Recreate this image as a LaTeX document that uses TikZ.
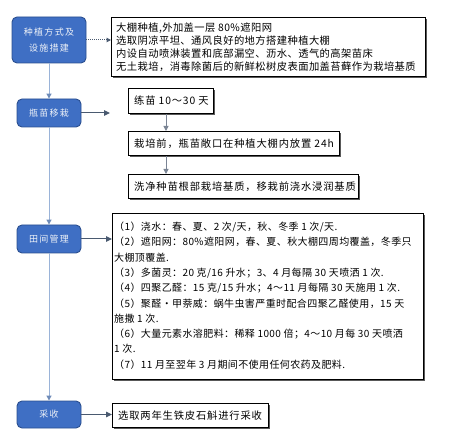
\documentclass[tikz,border=0pt]{standalone}
\usepackage{fontspec}
\newfontfamily\cjk[LetterSpace=4]{Noto Sans CJK SC}
\newfontfamily\cjkstep[LetterSpace=8]{Noto Sans CJK SC}
\newfontfamily\cjkwide[LetterSpace=14]{Noto Sans CJK SC}
\usetikzlibrary{arrows.meta}
\definecolor{stagefill}{HTML}{3F6FC4}
\definecolor{stageedge}{HTML}{2B4F8F}
\definecolor{stagetext}{HTML}{EEF2F8}
\definecolor{spine}{HTML}{9AB3D8}
\definecolor{spinetip}{HTML}{6E8BB8}
\definecolor{linkdark}{HTML}{4A5A70}
\definecolor{linkgray}{HTML}{7A8494}
\begin{document}
\begin{tikzpicture}[x=1pt,y=-1pt,
  stagebox/.style={draw=stageedge, line width=0.9pt, fill=stagefill, rounded corners=5pt,
    text=stagetext, font=\cjkwide\fontsize{9}{16}\selectfont, align=center, inner sep=0pt},
  infobox/.style={draw=black, line width=1.1pt, fill=white, inner sep=0pt, anchor=north west},
  shadowbox/.style={fill=black!65, draw=none, inner sep=0pt, anchor=north west},
  infotext/.style={anchor=west, inner sep=0pt, align=left, font=\cjk\fontsize{10.3}{12.8}\selectfont},
  steptext/.style={anchor=west, inner sep=0pt, align=left, font=\cjkstep\fontsize{10.3}{12.8}\selectfont},
  spinearrow/.style={draw=spine, line width=1pt, -{Triangle[length=5pt,width=5pt,color=spinetip]}},
  harrow/.style={draw=linkdark, line width=1pt, -{Triangle[length=6pt,width=5.5pt]}},
  varrow/.style={draw=linkgray, line width=1pt, -{Triangle[length=5pt,width=5pt]}}
]
\useasboundingbox (0,0) rectangle (455,443);

% left stage boxes
\node[stagebox, minimum width=74pt, minimum height=46pt] (s1) at (49,40) {种植方式及\\设施措建};
\node[stagebox, minimum width=64pt, minimum height=28pt] (s2) at (49,113) {瓶苗移栽};
\node[stagebox, minimum width=64pt, minimum height=28pt] (s3) at (49,239) {田间管理};
\node[stagebox, minimum width=64pt, minimum height=27pt] (s4) at (49,414.5) {采收};

% shadows of info boxes
\node[shadowbox, minimum width=314pt, minimum height=59pt] (shA) at (112.5,18.5) {};
\node[shadowbox, minimum width=85pt, minimum height=25pt] (shB) at (129.5,89.5) {};
\node[shadowbox, minimum width=211pt, minimum height=24pt] (shC) at (129.5,132.5) {};
\node[shadowbox, minimum width=230pt, minimum height=24pt] (shD) at (129.5,175.5) {};
\node[shadowbox, minimum width=311pt, minimum height=166pt] (shE) at (113.5,214.5) {};
\node[shadowbox, minimum width=156pt, minimum height=24pt] (shF) at (113.5,404.5) {};

% info boxes
\node[infobox, minimum width=314pt, minimum height=59pt] (A) at (111,17) {};
\node[infobox, minimum width=85pt, minimum height=25pt] (B) at (128,88) {};
\node[infobox, minimum width=211pt, minimum height=24pt] (C) at (128,131) {};
\node[infobox, minimum width=230pt, minimum height=24pt] (D) at (128,174) {};
\node[infobox, minimum width=311pt, minimum height=166pt] (E) at (112,213) {};
\node[infobox, minimum width=156pt, minimum height=24pt] (F) at (112,403) {};

% texts
\node[infotext] (tA) at ([xshift=5pt]A.west) {大棚种植,外加盖一层 80\%遮阳网\\
选取阴凉平坦、通风良好的地方搭建种植大棚\\
内设自动喷淋装置和底部漏空、沥水、透气的高架苗床\\
无土栽培，消毒除菌后的新鲜松树皮表面加盖苔藓作为栽培基质};
\node[steptext] (tB) at ([xshift=6pt]B.west) {练苗 10～30 天};
\node[steptext] (tC) at ([xshift=6pt]C.west) {栽培前，瓶苗敞口在种植大棚内放置 24h};
\node[steptext] (tD) at ([xshift=6pt]D.west) {洗净种苗根部栽培基质，移栽前浇水浸润基质};
\node[infotext, font=\cjk\fontsize{10}{15.3}\selectfont] (tE) at ([xshift=2pt,yshift=1pt]E.west) {（1）浇水：春、夏、2 次/天，秋、冬季 1 次/天.\\
（2）遮阳网：80\%遮阳网，春、夏、秋大棚四周均覆盖，冬季只\\
大棚顶覆盖.\\
（3）多菌灵：20 克/16 升水；3、4 月每隔 30 天喷洒 1 次.\\
（4）四聚乙醛：15 克/15 升水；4～11 月每隔 30 天施用 1 次.\\
（5）聚醛・甲萘威：蜗牛虫害严重时配合四聚乙醛使用，15 天\\
施撒 1 次.\\
（6）大量元素水溶肥料：稀释 1000 倍；4～10 月每 30 天喷洒\\
1 次.\\
（7）11 月至翌年 3 月期间不使用任何农药及肥料.};
\node[steptext] (tF) at ([xshift=6pt]F.west) {选取两年生铁皮石斛进行采收};

% spine connectors
\draw[spinearrow] (s1.south) -- (s2.north);
\draw[spinearrow] (s2.south) -- (s3.north);
\draw[spinearrow] (s3.south) -- (s4.north);

% horizontal connectors
\draw[harrow, densely dotted, -{Triangle[length=4.5pt,width=4.5pt]}] (s1.east) -- (s1.east -| A.west);
\coordinate (e2) at (110,113);
\draw[harrow] (s2.east) -- (e2);
\draw[harrow] (s3.east) -- (s3.east -| E.west);
\draw[harrow] (s4.east) -- (s4.east -| F.west);

% vertical connectors between steps
\coordinate (vx) at (166,0);
\draw[varrow] (B.south -| vx) -- (C.north -| vx);
\draw[varrow] (C.south -| vx) -- (D.north -| vx);
\end{tikzpicture}
\end{document}
